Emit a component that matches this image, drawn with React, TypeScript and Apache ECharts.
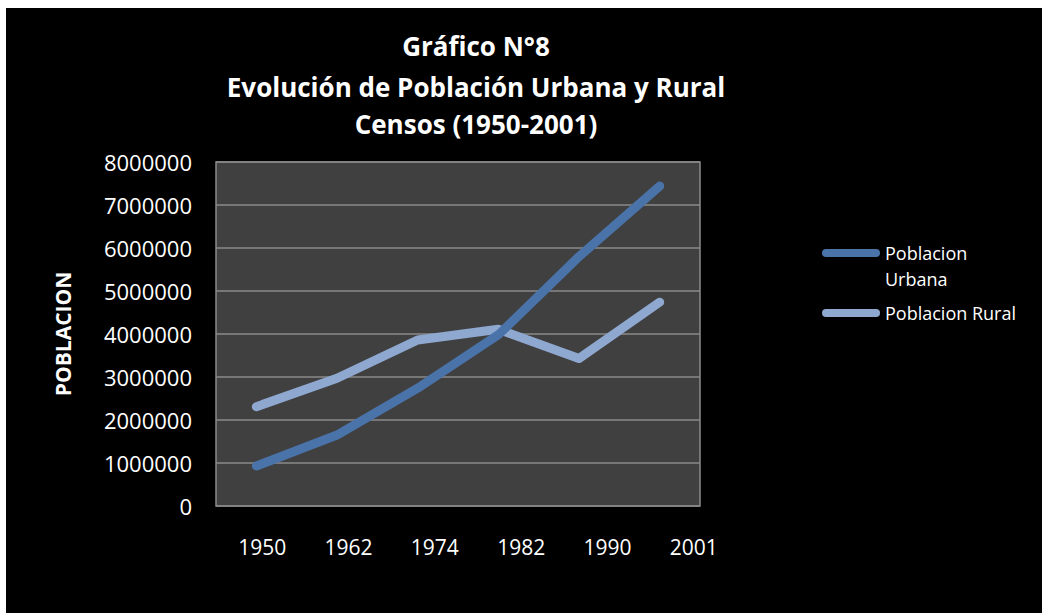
import React, { useEffect, useRef } from "react";
import * as echarts from "echarts";

const categories = ["1950", "1962", "1974", "1982", "1990", "2001"];
const urbana = [930000, 1650000, 2740000, 3980000, 5800000, 7440000];
const rural = [2310000, 2970000, 3860000, 4110000, 3430000, 4740000];
const seriesNames = ["Poblacion Urbana", "Poblacion Rural"];
const titleLines = ["Gráfico N°8", "Evolución de Población Urbana y Rural", "Censos (1950-2001)"];
const yAxisName = "POBLACION";

const FONT = "'Open Sans', 'Noto Sans', sans-serif";
const TITLE_Y = [38, 79, 116];

export default function App() {
  const ref = useRef<HTMLDivElement>(null);
  useEffect(() => {
    if (!ref.current) return;
    const chart = echarts.init(ref.current, undefined, { renderer: "svg" });
    chart.setOption({
      animation: false,
      backgroundColor: "#000000",
      graphic: titleLines.map((t, i) => ({
        type: "text",
        x: 470,
        y: TITLE_Y[i],
        style: {
          text: t,
          fill: "#ffffff",
          font: `bold 26px ${FONT}`,
          textAlign: "center",
          textVerticalAlign: "middle",
        },
      })),
      legend: {
        orient: "vertical",
        left: 811,
        top: 201,
        itemWidth: 58,
        itemHeight: 8,
        itemGap: 8,
        icon: "path://M4,0 L54,0 A4,4 0 0 1 54,8 L4,8 A4,4 0 0 1 4,0 Z",
        data: seriesNames,
        formatter: (name: string) =>
          name === seriesNames[0] ? "\nPoblacion\nUrbana" : name,
        textStyle: {
          color: "#ffffff",
          fontFamily: FONT,
          fontSize: 18,
          lineHeight: 26,
        },
      },
      grid: [
        {
          left: 210,
          top: 154,
          width: 484,
          height: 344,
          show: true,
          backgroundColor: "#404040",
          borderColor: "#8a8a8a",
          borderWidth: 1.5,
        },
        {
          left: 213,
          top: 154,
          width: 518,
          height: 344,
          show: false,
        },
      ],
      xAxis: [
        {
          type: "category",
          gridIndex: 0,
          data: categories,
          boundaryGap: true,
          axisLine: { show: false },
          axisTick: { show: false },
          axisLabel: { show: false },
          splitLine: { show: false },
        },
        {
          type: "category",
          gridIndex: 1,
          data: categories,
          boundaryGap: true,
          axisLine: { show: false },
          axisTick: { show: false },
          axisLabel: {
            color: "#ffffff",
            fontFamily: FONT,
            fontSize: 21,
            margin: 30,
          },
          splitLine: { show: false },
        },
      ],
      yAxis: [
        {
          type: "value",
          gridIndex: 0,
          min: 0,
          max: 8000000,
          interval: 1000000,
          name: yAxisName,
          nameLocation: "middle",
          nameGap: 143,
          nameTextStyle: {
            color: "#ffffff",
            fontFamily: FONT,
            fontWeight: "bold",
            fontSize: 21,
          },
          axisLine: { show: false },
          axisTick: { show: false },
          axisLabel: {
            color: "#ffffff",
            fontFamily: FONT,
            fontSize: 22,
            margin: 24,
            formatter: (v: number) => String(v),
          },
          splitLine: { lineStyle: { color: "#8a8a8a", width: 1.5 } },
        },
        {
          type: "value",
          gridIndex: 1,
          show: false,
          min: 0,
          max: 8000000,
          interval: 1000000,
          splitLine: { show: false },
        },
      ],
      series: [
        {
          name: seriesNames[0],
          type: "line",
          data: urbana,
          xAxisIndex: 0,
          yAxisIndex: 0,
          showSymbol: false,
          symbol: "none",
          z: 3,
          itemStyle: { color: "#4A73AA" },
          lineStyle: { color: "#4A73AA", width: 9, cap: "round", join: "round" },
        },
        {
          name: seriesNames[1],
          type: "line",
          data: rural,
          xAxisIndex: 0,
          yAxisIndex: 0,
          showSymbol: false,
          symbol: "none",
          z: 2,
          itemStyle: { color: "#8EA8D0" },
          lineStyle: { color: "#8EA8D0", width: 9, cap: "round", join: "round" },
        },
      ],
    });
    return () => chart.dispose();
  }, []);
  return (
    <div
      ref={ref}
      style={{ position: "fixed", left: 6, top: 8, width: 1036, height: 605 }}
    />
  );
}
